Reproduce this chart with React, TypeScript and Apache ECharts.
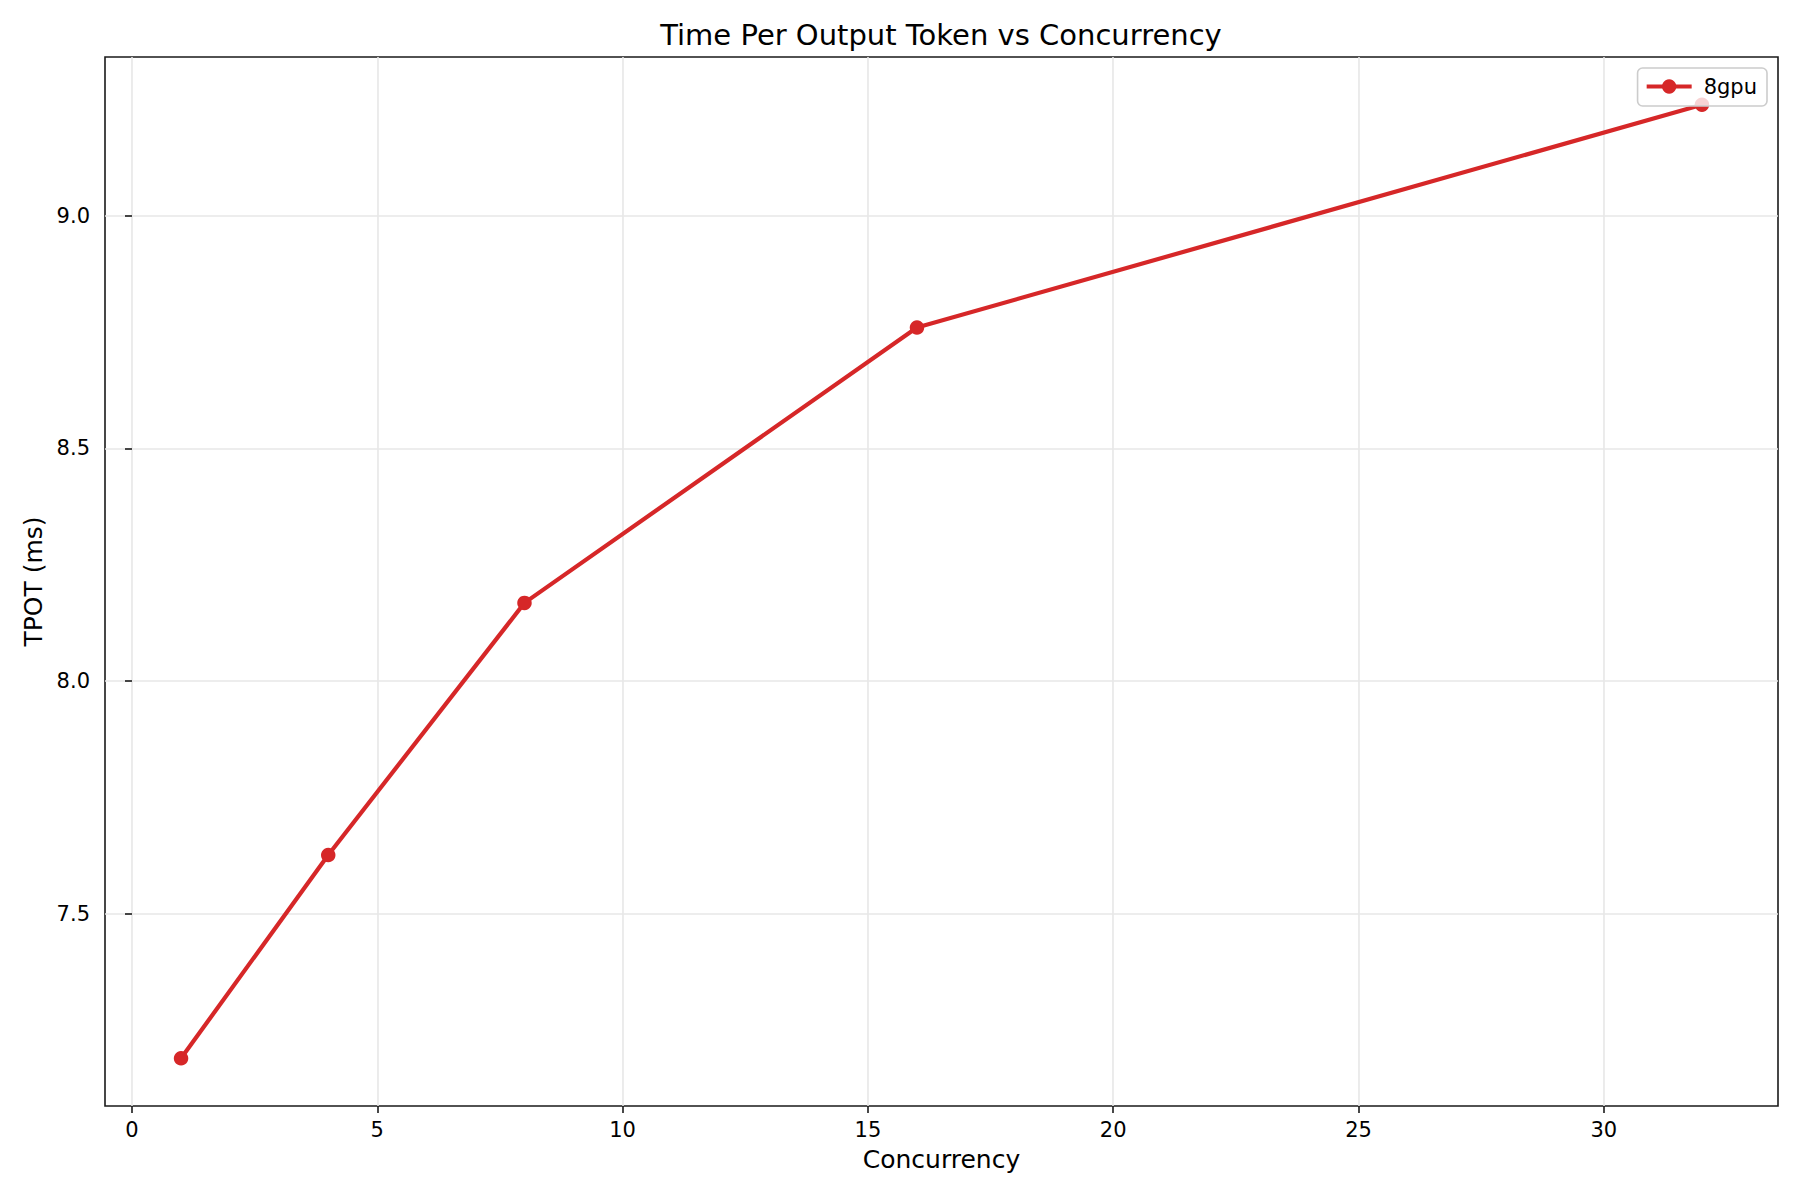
import { useEffect, useRef } from 'react';
import * as echarts from 'echarts';
import type { EChartsOption } from 'echarts';

const concurrency = [1, 4, 8, 16, 32];
const tpot = [7.189, 7.626, 8.168, 8.76, 9.239];
const xTicks = [0, 5, 10, 15, 20, 25, 30];
const yTicks = [7.5, 8.0, 8.5, 9.0];
const seriesName = '8gpu';

const FONT = 'DejaVu Sans';
const INK = '#1a1a1a';
const RED = '#d62728';

export default function App() {
  const chartRef = useRef<HTMLDivElement>(null);

  useEffect(() => {
    document.body.style.margin = '0';
    if (!chartRef.current) return;

    const chart = echarts.init(chartRef.current, null, { renderer: 'svg' });

    // matplotlib-style 5% margins around the data
    const xSpan = concurrency[concurrency.length - 1] - concurrency[0];
    const ySpan = Math.max(...tpot) - Math.min(...tpot);

    const option: EChartsOption = {
      animation: false,
      backgroundColor: '#ffffff',
      textStyle: { fontFamily: FONT },
      graphic: [
        {
          type: 'text',
          x: 941,
          y: 35,
          style: {
            text: 'Time Per Output Token vs Concurrency',
            fontFamily: FONT,
            fontSize: 29,
            fill: '#000',
            align: 'center',
            verticalAlign: 'middle',
          },
        },
      ],
      grid: {
        left: 105,
        right: 22,
        top: 57,
        bottom: 94,
        show: true,
        borderColor: INK,
        borderWidth: 1.6,
        backgroundColor: 'transparent',
      },
      legend: {
        top: 68,
        right: 33,
        itemWidth: 45,
        itemHeight: 18,
        padding: [8, 10, 9, 7],
        backgroundColor: 'rgba(255,255,255,0.8)',
        borderColor: '#cccccc',
        borderWidth: 1.6,
        borderRadius: 5,
        lineStyle: { width: 4.2 },
        textStyle: { fontSize: 21, color: '#000', fontFamily: FONT, padding: [0, 0, 0, 7] },
        data: [seriesName],
      },
      xAxis: {
        type: 'value',
        min: concurrency[0] - xSpan * 0.05,
        max: concurrency[concurrency.length - 1] + xSpan * 0.05,
        minInterval: 5,
        maxInterval: 5,
        name: 'Concurrency',
        nameLocation: 'middle',
        nameGap: 41,
        nameTextStyle: { fontSize: 25, color: '#000', fontFamily: FONT },
        axisLine: { show: false },
        axisTick: {
          show: true,
          length: 7,
          lineStyle: { color: INK, width: 1.6 },
          customValues: xTicks,
        },
        axisLabel: {
          fontSize: 21,
          color: '#000',
          margin: 13,
          customValues: xTicks,
          formatter: (v: number) => String(v),
        },
        splitLine: { show: true, lineStyle: { color: '#e7e7e7', width: 1.6 } },
      },
      yAxis: {
        type: 'value',
        min: Math.min(...tpot) - ySpan * 0.05,
        max: Math.max(...tpot) + ySpan * 0.05,
        minInterval: 0.5,
        maxInterval: 0.5,
        name: 'TPOT (ms)',
        nameLocation: 'middle',
        nameGap: 56,
        nameTextStyle: { fontSize: 25, color: '#000', fontFamily: FONT },
        axisLine: { show: false },
        axisTick: {
          show: true,
          length: 7,
          lineStyle: { color: INK, width: 1.6 },
          customValues: yTicks,
        },
        axisLabel: {
          fontSize: 21,
          color: '#000',
          margin: 15,
          customValues: yTicks,
          formatter: (v: number) => v.toFixed(1),
        },
        splitLine: { show: true, lineStyle: { color: '#e7e7e7', width: 1.6 } },
      },
      series: [
        {
          name: seriesName,
          type: 'line',
          data: concurrency.map((c, i) => [c, tpot[i]]),
          symbol: 'circle',
          symbolSize: 14.5,
          showAllSymbol: true,
          lineStyle: { color: RED, width: 4.2 },
          itemStyle: { color: RED },
          z: 3,
        },
      ],
    };

    chart.setOption(option);

    return () => {
      chart.dispose();
    };
  }, []);

  return <div ref={chartRef} style={{ width: 1800, height: 1200 }} />;
}
